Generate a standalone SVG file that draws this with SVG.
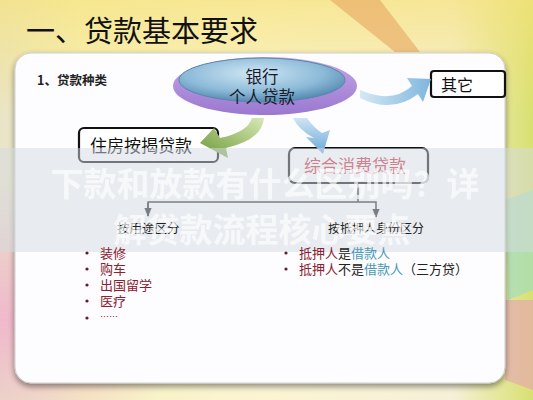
<svg xmlns="http://www.w3.org/2000/svg" width="533" height="400" viewBox="0 0 533 400">
<defs>
<linearGradient id="bg" x1="0" y1="0" x2="1" y2="0">
<stop offset="0" stop-color="#e9e4c8"/>
<stop offset="0.15" stop-color="#f7f1c0"/>
<stop offset="0.5" stop-color="#fbf5d4"/>
<stop offset="0.85" stop-color="#f6f0d8"/>
<stop offset="1" stop-color="#d8e070"/>
</linearGradient>
<radialGradient id="pinkL" cx="0" cy="0.8" r="0.35">
<stop offset="0" stop-color="#f0b8cc"/>
<stop offset="1" stop-color="#f0b8cc" stop-opacity="0"/>
</radialGradient>
<linearGradient id="topY" x1="0" y1="0" x2="0" y2="1">
<stop offset="0" stop-color="#f6e27a" stop-opacity="0.7"/>
<stop offset="1" stop-color="#f6e27a" stop-opacity="0"/>
</linearGradient>
<radialGradient id="ellTop" cx="0.45" cy="0.35" r="0.7">
<stop offset="0" stop-color="#cfe6f5"/>
<stop offset="0.6" stop-color="#8cbad8"/>
<stop offset="1" stop-color="#4a7fa8"/>
</radialGradient>
<linearGradient id="ellBot" x1="0" y1="0" x2="0" y2="1">
<stop offset="0" stop-color="#c6a6e8"/>
<stop offset="1" stop-color="#9a78d0"/>
</linearGradient>
<linearGradient id="blueArr" x1="0" y1="0" x2="1" y2="0">
<stop offset="0" stop-color="#d5e8f5"/>
<stop offset="1" stop-color="#7fb6de"/>
</linearGradient>
<linearGradient id="blueArr2" x1="0" y1="0" x2="0" y2="1">
<stop offset="0" stop-color="#cfe4f3"/>
<stop offset="1" stop-color="#6aa8d8"/>
</linearGradient>
<linearGradient id="greenArr" x1="1" y1="0" x2="0" y2="1">
<stop offset="0" stop-color="#d6e8b4"/>
<stop offset="1" stop-color="#6e9a3a"/>
</linearGradient>
<marker id="ah" viewBox="0 0 10 10" refX="9" refY="5" markerWidth="6" markerHeight="6" orient="auto">
<path d="M0,1 L10,5 L0,9 Z" fill="#222"/>
</marker>
<filter id="sh" x="-5%" y="-5%" width="110%" height="115%">
<feGaussianBlur in="SourceAlpha" stdDeviation="3"/>
<feOffset dy="3"/>
<feComponentTransfer><feFuncA type="linear" slope="0.45"/></feComponentTransfer>
<feMerge><feMergeNode/><feMergeNode in="SourceGraphic"/></feMerge>
</filter>
</defs>
<style>
.cjk{font-family:"Noto Sans CJK SC","Noto Sans",sans-serif;}
.box{fill:#fff;stroke:#111;stroke-width:2.2;}
.red{fill:#8a2030;}
.teal{fill:#4a9ab5;}
.blk{fill:#222;}
.bul{fill:#6a1a2a;}
</style>

<!-- background -->
<rect x="0" y="0" width="533" height="400" fill="url(#bg)"/>
<rect x="0" y="0" width="533" height="120" fill="url(#topY)"/>
<rect x="0" y="0" width="533" height="400" fill="url(#pinkL)"/>
<path d="M330,0 L380,0 L420,52 L395,52 Z" fill="#e8a560" opacity="0.6"/>
<path d="M505,200 L533,190 L533,290 L508,300 Z" fill="#9adcc8" opacity="0.6"/>
<path d="M505,300 L533,300 L533,390 L505,380 Z" fill="#e8a0b8" opacity="0.6"/>

<!-- title -->
<text x="26" y="42" class="cjk" font-size="29" fill="#111">一、贷款基本要求</text>

<!-- panel -->
<rect x="15" y="53" width="490" height="330" rx="16" fill="#fdfcfe" stroke="#d0d0d0" stroke-width="1" filter="url(#sh)"/>

<text x="37" y="85" class="cjk" font-size="12.5" font-weight="bold" fill="#222">1、贷款种类</text>

<!-- nodes -->
<g id="n-bank">
<ellipse cx="265" cy="86" rx="92" ry="29" fill="url(#ellBot)"/>
<ellipse cx="262" cy="80" rx="83" ry="22" fill="url(#ellTop)" stroke="#5a86ac" stroke-width="1"/>
<text x="262" y="83" class="cjk" font-size="16.5" text-anchor="middle" fill="#1a1a2a">银行</text>
<text x="262" y="103" class="cjk" font-size="16.5" text-anchor="middle" fill="#1a1a2a">个人贷款</text>
</g>

<g id="n-other">
<rect x="431" y="71" width="74" height="26" rx="3" class="box"/>
<text x="441" y="91" class="cjk" font-size="16" fill="#111">其它</text>
</g>

<g id="n-house">
<rect x="79" y="128" width="139" height="34" rx="5" class="box"/>
<text x="90" y="152" class="cjk" font-size="17" fill="#111">住房按揭贷款</text>
</g>

<g id="n-consume">
<rect x="289" y="148" width="139" height="35" rx="6" class="box"/>
<text x="304" y="172" class="cjk" font-size="17" fill="#c8283a">综合消费贷款</text>
</g>

<!-- connectors -->
<g id="connectors">
<path d="M360,90 Q392,104 412,86 L407,78 L431,79 L423,102 L418,94 Q392,114 360,98 Z" fill="url(#blueArr)"/>
<path d="M293,118 L307,118 Q314,128 322,133 L330,130 L323,154 L306,137 L314,138 Q299,130 293,118 Z" fill="url(#blueArr2)"/>
<path d="M252,118 L264,118 Q262,140 226,148 L228,158 L200,143 L214,128 L220,138 Q248,132 252,118 Z" fill="url(#greenArr)"/>
<polyline points="358,183 358,202" fill="none" stroke="#222" stroke-width="1.5"/>
<polyline points="148,216 148,202 376,202 376,217" fill="none" stroke="#222" stroke-width="1.5" marker-end="url(#ah)"/>
<line x1="148" y1="203" x2="148" y2="216" stroke="#222" stroke-width="1.5" marker-end="url(#ah)"/>
</g>

<!-- overlay band -->
<rect x="0" y="148" width="533" height="104" fill="#d3d9e2" opacity="0.5"/>

<g id="n-use">
<text x="117" y="233" class="cjk" font-size="12.5" fill="#222">按用途区分</text>
</g>
<g id="n-identity">
<text x="328" y="233" class="cjk" font-size="12" fill="#222">按抵押人身份区分</text>
</g>

<!-- watermark text -->
<text x="265" y="196" class="cjk" font-size="33" font-weight="bold" text-anchor="middle" fill="#ffffff" opacity="0.65">下款和放款有什么区别吗？详</text>
<text x="262" y="242" class="cjk" font-size="33" font-weight="bold" text-anchor="middle" fill="#ffffff" opacity="0.65">解贷款流程核心要点</text>

<!-- left list -->
<g id="list-left" class="cjk" font-size="13">
<circle cx="87" cy="253" r="1.6" class="bul"/>
<text x="100" y="258" class="red">装修</text>
<circle cx="87" cy="269" r="1.6" class="bul"/>
<text x="100" y="274" class="red">购车</text>
<circle cx="87" cy="285" r="1.6" class="bul"/>
<text x="100" y="290" class="red">出国留学</text>
<circle cx="87" cy="301" r="1.6" class="bul"/>
<text x="100" y="306" class="red">医疗</text>
<circle cx="87" cy="318" r="1.6" class="bul"/>
<text x="100" y="320" class="red" font-size="9">……</text>
</g>

<!-- right list -->
<g id="list-right" class="cjk" font-size="13">
<circle cx="286" cy="253" r="1.6" class="bul"/>
<text x="299" y="258"><tspan class="red">抵押人</tspan><tspan class="blk">是</tspan><tspan class="teal">借款人</tspan></text>
<circle cx="286" cy="269" r="1.6" class="bul"/>
<text x="299" y="274"><tspan class="red">抵押人</tspan><tspan class="blk">不是</tspan><tspan class="teal">借款人</tspan><tspan class="blk">（三方贷）</tspan></text>
</g>
</svg>
